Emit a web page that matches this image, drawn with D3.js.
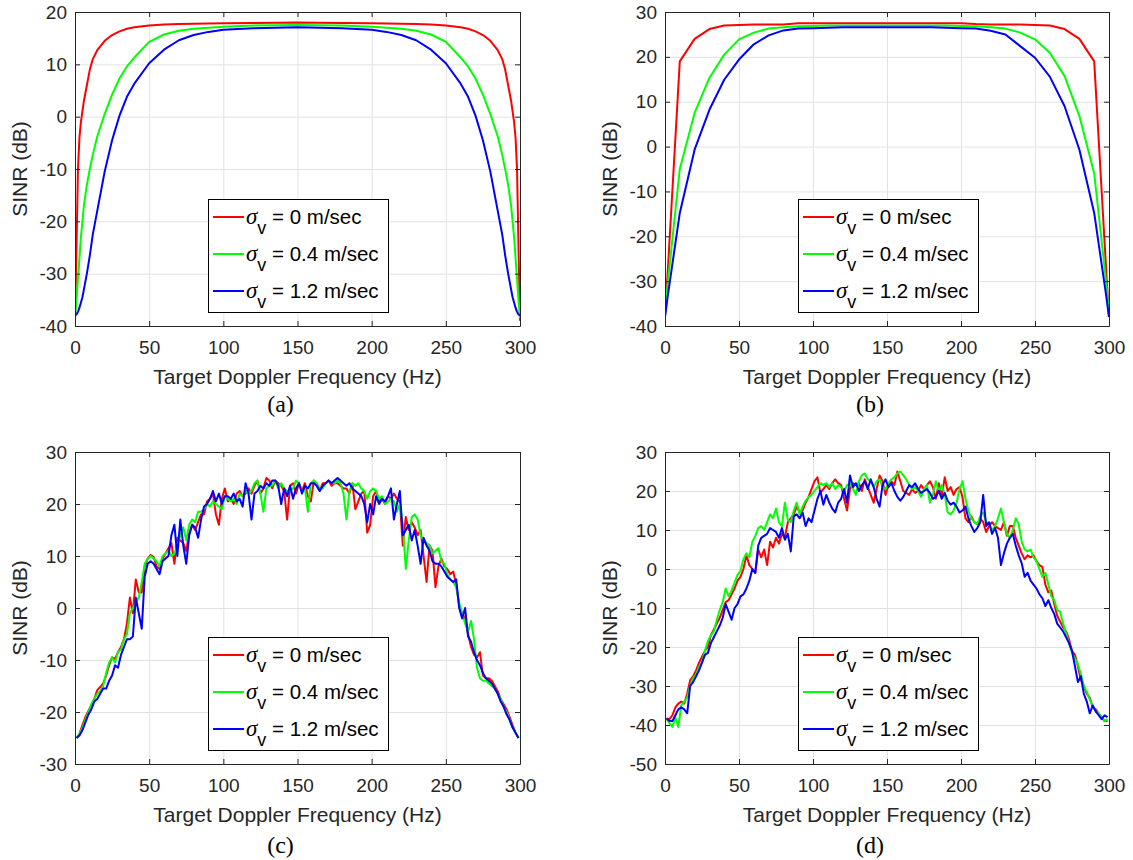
<!DOCTYPE html>
<html><head><meta charset="utf-8">
<script src="https://cdn.jsdelivr.net/npm/d3@7"></script>
<style>body{margin:0;background:#fff}</style>
</head><body><svg id="fig" width="1133" height="860"></svg>
<script>
// ---------- data ----------
const xTicks = [0, 50, 100, 150, 200, 250, 300];
const yTicksA = [-40, -30, -20, -10, 0, 10, 20];
const yTicksB = [-40, -30, -20, -10, 0, 10, 20, 30];
const yTicksC = [-30, -20, -10, 0, 10, 20, 30];
const yTicksD = [-50, -40, -30, -20, -10, 0, 10, 20, 30];
const sigmaValues = ["0", "0.4", "1.2"];
const captions = ["(a)", "(b)", "(c)", "(d)"];

const freqA = [0,1,2,3,4,5,6,8,10,12,15,20,25,30,35,40,50,60,70,80,90,100,120,150,
  180,200,210,220,230,240,250,260,265,270,275,280,285,288,290,292,294,295,296,297,298,299,300];
const redA = [-39,-25,-10,-4,-1,1,3,6,9,11,12.7,14.5,15.6,16.3,16.8,17.1,17.4,17.6,17.7,17.75,17.8,17.85,17.9,18.0,
  17.9,17.85,17.8,17.75,17.7,17.6,17.4,17.1,16.8,16.3,15.6,14.5,12.7,11,9,6,3,1,-1,-4,-10,-25,-39];
const greenA = [-38.5,-35,-31,-27,-23,-20,-17,-13,-10,-7.3,-3.8,0.5,4.2,7.3,9.6,11.3,14.3,15.7,16.4,16.8,17.0,17.2,17.4,17.5,
  17.4,17.2,17.0,16.8,16.4,15.7,14.3,11.3,9.6,7.3,4.2,0.5,-3.8,-7.3,-10,-13,-17,-20,-23,-27,-31,-35,-38.5];
const blueA = [-38,-37.8,-37.3,-36.5,-35.5,-34.5,-33,-30,-26.5,-22.5,-18,-10.5,-4.5,0.2,3.8,6.3,10.2,12.8,14.6,15.6,16.2,16.6,16.9,17.1,
  16.9,16.6,16.2,15.6,14.6,12.8,10.2,6.3,3.8,0.2,-4.5,-10.5,-18,-22.5,-26.5,-30,-33,-34.5,-35.5,-36.5,-37.3,-37.8,-38];

const freqB = [0,2,10,20,30,40,50,60,70,80,90,100,110,120,130,140,150,160,170,180,190,200,210,220,230,240,250,260,270,280,290,298,300];
const redB = [-38,-27,19,24,26.2,27,27.1,27.2,27.2,27.2,27.5,27.5,27.5,27.5,27.5,27.5,27.5,27.5,27.5,27.5,27.5,27.5,27.3,27.2,27.2,27.2,27.1,27,26.2,24,19,-27,-38];
const greenB = [-37,-30,-5,7.5,15.3,20.5,23.9,25.4,26.3,26.6,26.8,26.9,27,27,27,27,27,27,27,27,27,26.9,26.8,26.6,26.3,25.4,23.9,20.9,15.7,6.8,-6,-30,-37];
const blueB = [-38,-33,-14.8,-0.7,8.2,14.9,19.4,22.8,24.8,25.9,26.3,26.4,26.5,26.6,26.6,26.6,26.6,26.6,26.6,26.6,26.5,26.4,26.3,25.8,25,22.4,19.8,15.6,9,-0.7,-14.8,-33,-38];

const freqCD = [1,3,5,7,9,11,13,15,17,19,21,23,25,27,29,31,33,35,37,39,41,43,45,47,49,51,53,55,57,59,
  61,63,65,67,69,71,73,75,77,79,81,83,85,87,89,91,93,95,97,99,101,103,105,107,109,111,113,115,117,119,
  121,123,125,127,129,131,133,135,137,139,141,143,145,147,149,151,153,155,157,159,161,163,165,167,169,171,173,175,177,179,
  181,183,185,187,189,191,193,195,197,199,201,203,205,207,209,211,213,215,217,219,221,223,225,227,229,231,233,235,237,239,
  241,243,245,247,249,251,253,255,257,259,261,263,265,267,269,271,273,275,277,279,281,283,285,287,289,291,293,295,297,299];

const redC = [-25,-24.2,-22.5,-21,-19.8,-18.7,-17.5,-15.8,-15.2,-14.5,
  -13,-11,-9.5,-9.8,-8.5,-7.5,-6,-3,2,-1,
  5.5,3,3,8,9.5,10.2,9.8,8,7.5,9.5,
  10.5,11.5,12.5,8.5,13.5,13,12.5,11,14.5,16,
  15,16.5,18,18,20.5,21,22,18,16,21,
  23,20.5,21,20,22,22.5,21.5,22,23,22,
  23.5,24.5,22,23,25,24.5,23,24.5,24,23.5,
  22.5,17,23.5,24,22,24,22.5,24,21.5,20.5,
  24.5,23.5,22.5,24,24,24.5,23.5,24,24,23.5,
  23,23,22,24,19,20.5,22,22.5,14.5,16,
  21.5,22.5,20.5,21,20,21.5,21,22,21,20.5,
  12,17.5,15,16.5,15.5,14,15,10,5,12,
  11,4,8,9.5,8,7.5,6.5,7,4.5,0.5,
  -1,-2,-5,-7.5,-9,-9.5,-8.5,-13,-13.5,-13.5,
  -14,-15,-16,-17.5,-18.5,-19.5,-21,-22.5,-24,-25];
const greenC = [-25,-24.3,-23,-21.5,-20,-18.5,-17.5,-16.5,-16,-15,
  -12.5,-10.5,-9.5,-10.5,-8.5,-8,-6,-5,-1,0,
  1,2,5,8.5,9.5,10,9.5,9,8,10,
  10.5,11,10,10.5,12,14,15.5,13,16,17,
  16.5,18.5,18.5,19,20,19.5,20.5,20,19.5,19,
  21.5,21,20.5,21,20,22,21.5,22.5,22,22.5,
  24,24.5,22,18.5,23,23.5,23.5,24.5,23,24,
  23,22.5,22.5,23,24.5,24,22.5,23,18.5,24,
  24.5,24,23,23,24,24.5,24,24,24.5,24,
  22,17,22.5,24,23.5,24,23,22.5,21,22.5,
  23,22.5,21,21.5,20,20.5,21,20.5,18.5,20,
  16,7.5,13,17.5,18,17,14,13,12.5,12,
  10.5,11,11.5,9,8.5,6.5,5.5,5,4,1,
  -1,-3,-4.5,-2.5,-6,-11.5,-13.5,-14,-14,-14.5,
  -15,-15.5,-16.5,-17.5,-19,-20,-21.5,-23,-24,-25];
const blueC = [-25,-24.5,-23.5,-22,-20.5,-19.5,-18,-17.5,-16.5,-15.5,
  -15.5,-14,-13,-11,-11.5,-9,-7.5,-6,-6,-5.5,
  2,-1,-4,6,8.5,9,8.5,7.5,6.5,9,
  9.5,10,14,16,10,17,12,8.5,14,16,
  15.5,13.5,17,19.5,20,21,22.5,20.5,22,20,
  21.5,21.5,21,22,20.5,21,19.5,24,22,17,
  22,22.5,23.5,23,24,23.5,24.5,24.5,23.5,20,
  23,21.5,23.5,21,23,24,22,23.5,23,24,
  24,23.5,22.5,23.5,24,24.5,24,24.5,25,24.5,
  24,23.5,24,23,22.5,22,21.5,20,16.5,20,
  18,21.5,20,21,20.5,21.5,23,17,20,22.5,
  14,15,16,13,15,12,8.5,13.5,12,11,
  9,8.5,8.5,8,7,6,5.5,5,5.5,0,
  -2,0,-5.5,-6.5,-8.5,-10,-11,-12.5,-13.5,-14,
  -14.5,-15.5,-16.5,-18,-19,-20.5,-21.5,-23,-24,-25];

const redD = [-38.3,-38.5,-37.5,-35.5,-34.5,-34,-34.5,-32,-28.5,-27.5,
  -26,-24,-22.5,-21,-20,-17,-15.5,-14,-12.5,-10.5,
  -8.5,-8,-6.5,-5,-3,-2,0,3.5,1,0,
  -1,5,3,5,1,7,5.5,8,6.5,9,
  8,12,13,14,16,14.5,15,17,18.5,20.5,
  22.5,23.5,19.5,20.5,21.5,20.5,22,23,22,21.5,
  18,15,20.5,22,21.5,22,20,23,21,19,
  17,20.5,24,22.5,19,21.5,22.5,21.5,25,22.5,
  20,19.5,19,20.5,19.5,20,21.5,20.5,21.5,22.5,
  21,18,22,18.5,23.5,20,21,19,20.5,21,
  18.5,13,12,13.5,12,11.5,13,12,9.5,11,
  12,11,10.5,10,12,8.5,11,11,8,6,
  4,2.5,3.5,3,3.5,2,1,0.5,-4,-6,
  -5.5,-9,-12,-13.5,-15,-16,-18,-21,-22,-25,
  -28.5,-30,-32,-33,-35.5,-36,-37,-38,-39,-39];
const greenD = [-38.5,-39.5,-40.5,-38,-40.5,-35,-34,-33,-30,-28,
  -27,-25,-24,-21,-18.5,-17,-16,-13,-10.5,-8.5,
  -5,-7,-5.5,-3.5,-1.5,-0.5,2.5,4,3,7,
  8.5,10.5,11,10,12,14,13,15.5,12,11,
  17,12.5,12,15,17,14,16,17.5,18.5,19,
  20,21,22,21.5,22,21,22,20.5,21.5,21,
  20,21.5,22,20.5,19,22.5,24,24.5,23,22.5,
  21,22.5,23,21,20.5,22,23,23.5,24.5,25,
  24,23,21.5,20.5,21,20,18.5,20.5,21.5,17,
  19,22.5,20,21.5,19,14.5,14,15,17,20.5,
  22.5,18,15,13,12,11.5,13.5,14.5,12,11.5,
  10,11,13,15.5,12,9,8,10,13,11.5,
  7,5,4.5,5,3,2,0,-2,-1,-4,
  -7,-8,-10.5,-11,-14,-16.5,-19,-21.5,-23,-24.5,
  -27,-30,-31.5,-33.5,-35,-36.5,-37,-38,-39,-38.5];
const blueD = [-38.3,-39,-39,-37.5,-36,-35.5,-36,-37,-30,-29,
  -27.5,-26,-24,-22,-21.5,-19,-17.5,-16,-14.5,-12.5,
  -9,-11,-13,-10,-9,-7,-6.5,-5,-3,0,
  -1,6,8,8.5,9,10.5,10,9.5,8,10.5,
  7.5,9,4.5,13.5,14,13,14.5,11,13,12,
  15,18,20,16.5,19,17,15.5,14.5,17,18,
  20.5,17,24,21,22,20,21.5,22.5,20.5,23,
  21,18,16,21.5,23,21,22,20,18.5,17.5,
  18.5,20,21.5,21,22,20.5,19.5,20,20.5,19.5,
  18,18.5,20,18,19.5,17.5,16.5,17,16,14.5,
  15,16,13,11,9.5,10.5,12,19,11,12,
  9,10.5,8,1,4,6.5,8,9,6,3.5,
  1.5,-2,-1,-3,-4,-5,-6.5,-7.5,-9.5,-8,
  -10,-11.5,-14,-15,-16,-17.5,-19,-21,-25,-29,
  -27.5,-32,-34,-37,-35,-36.5,-37.5,-38.5,-37.5,-38];

// ---------- layout / style ----------
const seriesColors = ["#ff0000", "#00ff00", "#0000ff"];
const panels = [
  {left: 75,  top: 12,  width: 445, height: 314, yDomain: [-40, 20], yTicks: yTicksA, freq: freqA, series: [redA, greenA, blueA]},
  {left: 665, top: 12,  width: 444, height: 314, yDomain: [-40, 30], yTicks: yTicksB, freq: freqB, series: [redB, greenB, blueB]},
  {left: 75,  top: 452, width: 445, height: 312, yDomain: [-30, 30], yTicks: yTicksC, freq: freqCD, series: [redC, greenC, blueC]},
  {left: 665, top: 452, width: 444, height: 312, yDomain: [-50, 30], yTicks: yTicksD, freq: freqCD, series: [redD, greenD, blueD]}
];
const SANS = "'Liberation Sans', Arial, sans-serif";
const SERIF = "'Liberation Serif', 'Times New Roman', serif";
const axisColor = "#262626";

const svg = d3.select("#fig");
svg.append("rect").attr("width", 1133).attr("height", 860).attr("fill", "#fff");

panels.forEach((p, i) => {
  const g = svg.append("g").attr("transform", `translate(${p.left},${p.top})`);
  const x = d3.scaleLinear().domain([0, 300]).range([0, p.width]);
  const y = d3.scaleLinear().domain(p.yDomain).range([p.height, 0]);

  // grid
  const gx = g.append("g").attr("transform", `translate(0,${p.height})`)
    .call(d3.axisBottom(x).tickValues(xTicks).tickSize(-p.height).tickFormat(""));
  const gy = g.append("g")
    .call(d3.axisLeft(y).tickValues(p.yTicks).tickSize(-p.width).tickFormat(""));
  [gx, gy].forEach(a => { a.select(".domain").remove(); a.selectAll("line").attr("stroke", "#e2e2e2"); });

  // clip
  const cid = "clip" + i;
  g.append("clipPath").attr("id", cid).append("rect")
    .attr("x", 0).attr("y", -2).attr("width", p.width).attr("height", p.height + 2);

  // series
  const line = d3.line().x((d, j) => x(p.freq[j])).y(d => y(d));
  p.series.forEach((s, k) => {
    g.append("path").datum(s).attr("d", line)
      .attr("clip-path", `url(#${cid})`)
      .attr("fill", "none").attr("stroke", seriesColors[k])
      .attr("stroke-width", 2).attr("stroke-linejoin", "round");
  });

  // axes (box with inward ticks)
  const fmt = d => String(d);
  const styleAxis = a => {
    a.attr("font-family", SANS).attr("font-size", 19);
    a.select(".domain").attr("stroke", axisColor);
    a.selectAll(".tick line").attr("stroke", axisColor);
    a.selectAll("text").attr("fill", axisColor);
  };
  styleAxis(g.append("g").attr("transform", `translate(0,${p.height})`)
    .call(d3.axisBottom(x).tickValues(xTicks).tickSize(-5).tickSizeOuter(0).tickPadding(15).tickFormat(fmt)));
  styleAxis(g.append("g")
    .call(d3.axisLeft(y).tickValues(p.yTicks).tickSize(-5).tickSizeOuter(0).tickPadding(8).tickFormat(fmt)));
  styleAxis(g.append("g")
    .call(d3.axisTop(x).tickValues(xTicks).tickSize(-5).tickSizeOuter(0).tickFormat("")));
  styleAxis(g.append("g").attr("transform", `translate(${p.width},0)`)
    .call(d3.axisRight(y).tickValues(p.yTicks).tickSize(-5).tickSizeOuter(0).tickFormat("")));

  // axis labels
  g.append("text").attr("transform", `translate(-48,${p.height / 2}) rotate(-90)`)
    .attr("text-anchor", "middle").attr("font-family", SANS).attr("font-size", 21)
    .attr("fill", axisColor).text("SINR (dB)");
  g.append("text").attr("x", p.width / 2).attr("y", p.height + 58)
    .attr("text-anchor", "middle").attr("font-family", SANS).attr("font-size", 21)
    .attr("fill", axisColor).text("Target Doppler Frequency (Hz)");
  g.append("text").attr("x", p.width / 2 - 17).attr("y", p.height + (i < 2 ? 86 : 89))
    .attr("text-anchor", "middle").attr("font-family", SERIF).attr("font-size", 24)
    .attr("fill", "#000").text(captions[i]);

  // legend
  const lw = 180, lh = 113;
  const lg = g.append("g").attr("transform", `translate(133,${p.height - 14 - lh})`);
  lg.append("rect").attr("x", 0.5).attr("y", 0.5).attr("width", lw).attr("height", lh)
    .attr("fill", "#fff").attr("stroke", "#000").attr("stroke-width", 1);
  sigmaValues.forEach((v, k) => {
    const ry = 18 + k * 37;
    lg.append("line").attr("x1", 5).attr("x2", 36).attr("y1", ry).attr("y2", ry)
      .attr("stroke", seriesColors[k]).attr("stroke-width", 2);
    const t = lg.append("text").attr("x", 38).attr("y", ry + 7)
      .attr("font-family", SANS).attr("font-size", 20.5).attr("fill", "#000");
    t.append("tspan").attr("font-family", SERIF).attr("font-style", "italic").attr("font-size", 23).text("σ");
    t.append("tspan").attr("dy", 10).attr("font-size", 18).text("v");
    t.append("tspan").attr("dy", -10).text(" = " + v + " m/sec");
  });
});
</script>
</body></html>
